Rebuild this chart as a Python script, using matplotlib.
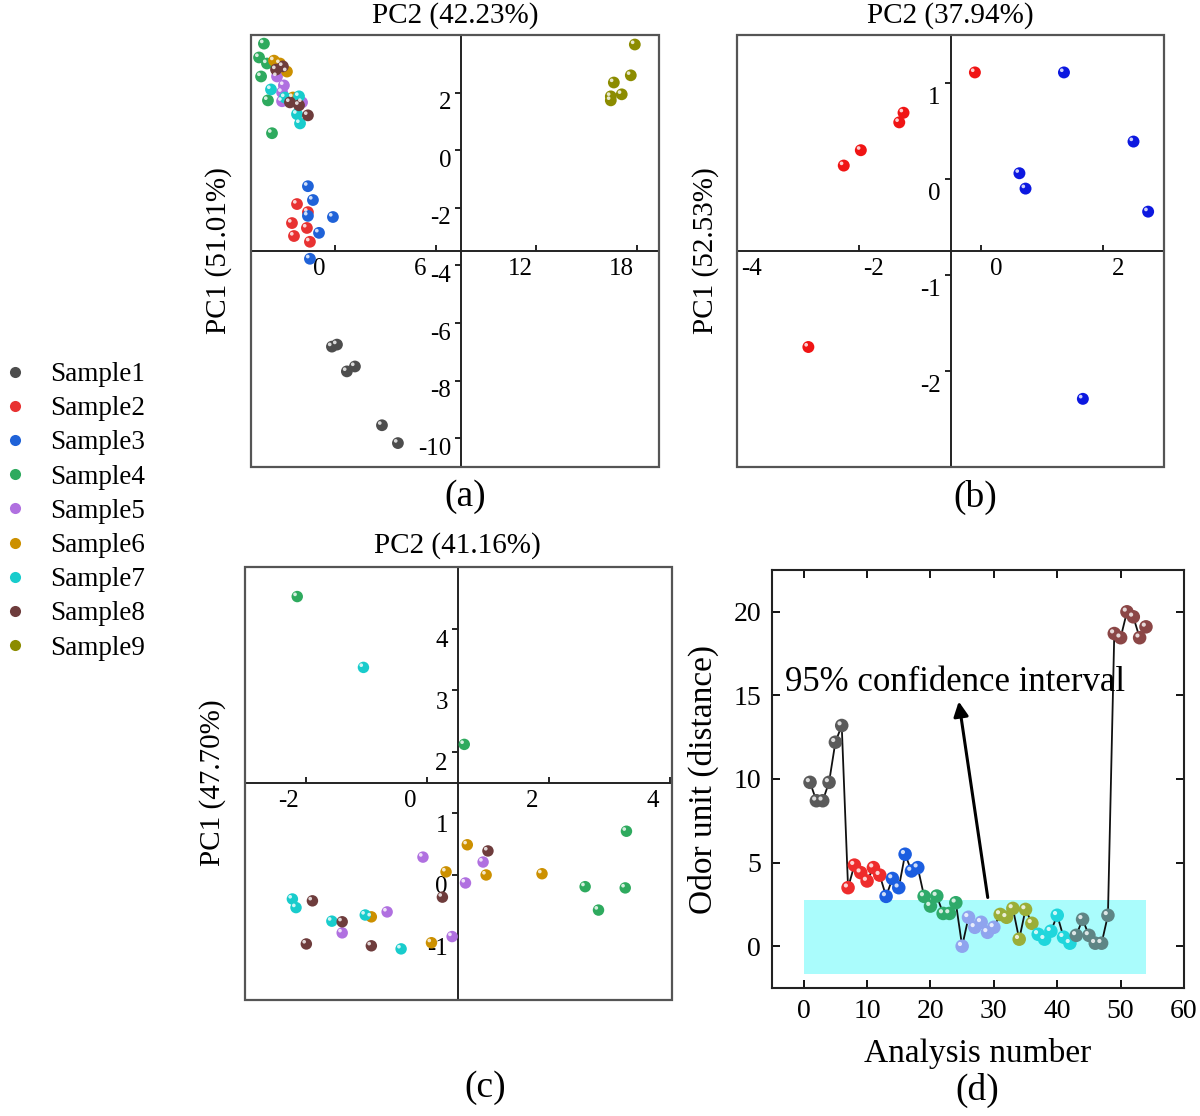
import matplotlib
matplotlib.use("Agg")
import matplotlib.pyplot as plt
from matplotlib.lines import Line2D
from matplotlib.patches import Rectangle
from matplotlib.transforms import ScaledTranslation

plt.rcParams['font.family'] = ['Liberation Serif', 'DejaVu Serif']
plt.rcParams['axes.unicode_minus'] = False

# ---------------- data ----------------
samples = ['Sample1', 'Sample2', 'Sample3', 'Sample4', 'Sample5',
           'Sample6', 'Sample7', 'Sample8', 'Sample9']
colors = ['#4d4d4d', '#e83232', '#1f62d8', '#2eaa5e', '#b070e0',
          '#cc9000', '#18cccc', '#6e3c3c', '#8c8c00']

# panel (a): PC2 (x) / PC1 (y) for all nine samples
a_x = {
    'Sample1': [0.12, -0.18, 1.19, 0.71, 2.80, 3.75],
    'Sample2': [-2.26, -1.61, -2.56, -1.67, -2.44, -1.49],
    'Sample3': [-1.61, -1.31, -1.61, -0.12, -0.95, -1.49],
    'Sample4': [-4.23, -4.52, -4.05, -4.40, -3.99, -3.75],
    'Sample5': [-3.45, -3.04, -3.15, -3.15, -1.96],
    'Sample6': [-3.63, -3.27, -2.86, -2.50],
    'Sample7': [-3.81, -2.98, -2.14, -2.26, -2.08],
    'Sample8': [-3.51, -3.10, -2.68, -2.14, -1.61],
    'Sample9': [17.86, 17.62, 16.61, 17.08, 16.43, 16.43],
}
a_y = {
    'Sample1': [-6.75, -6.82, -7.51, -7.68, -9.55, -10.17],
    'Sample2': [-1.87, -2.15, -2.53, -2.70, -2.98, -3.18],
    'Sample3': [-1.25, -1.73, -2.28, -2.32, -2.87, -3.77],
    'Sample4': [3.70, 3.22, 3.01, 2.56, 1.73, 0.59],
    'Sample5': [2.56, 2.25, 2.01, 1.70, 1.66],
    'Sample6': [3.11, 3.01, 2.73, 1.83],
    'Sample7': [2.11, 1.83, 1.87, 1.25, 0.93],
    'Sample8': [2.80, 2.91, 1.66, 1.56, 1.21],
    'Sample9': [3.67, 2.60, 2.35, 1.94, 1.87, 1.73],
}

# panel (b): two groups
b_red_x = [-0.10, -1.27, -1.34, -1.97, -2.25, -2.83]
b_red_y = [1.11, 0.69, 0.59, 0.30, 0.14, -1.75]
b_blue_x = [1.36, 2.50, 0.63, 0.73, 2.74, 1.67]
b_blue_y = [1.11, 0.39, 0.06, -0.10, -0.34, -2.29]

# panel (c): samples 4-8
c_x = {
    'Sample4': [-2.14, 0.61, 3.28, 2.60, 3.26, 2.82],
    'Sample5': [-0.07, 0.63, 0.92, -1.40, -0.66, 0.41],
    'Sample6': [0.31, 0.66, 0.97, 1.89, -0.92, 0.07],
    'Sample7': [-1.05, -2.22, -2.16, -1.57, -1.02, -0.43],
    'Sample8': [1.00, 0.25, -1.89, -1.40, -1.99, -0.92],
}
c_y = {
    'Sample4': [4.52, 2.12, 0.71, -0.19, -0.21, -0.57],
    'Sample5': [0.29, -0.13, 0.21, -0.94, -0.60, -1.00],
    'Sample6': [0.05, 0.49, 0.00, 0.02, -0.68, -1.10],
    'Sample7': [3.37, -0.39, -0.53, -0.75, -0.65, -1.20],
    'Sample8': [0.39, -0.36, -0.42, -0.76, -1.12, -1.15],
}

# panel (d): odor unit distance per analysis
d_colors = ['#5a5a5a', '#ee2c2c', '#1c5ee0', '#2eaa6a', '#8fa4ee',
            '#9aae38', '#20d6dc', '#5e8585', '#8b4646']
d_values = [
    [9.8, 8.7, 8.7, 9.8, 12.2, 13.2],
    [3.5, 4.85, 4.4, 3.9, 4.7, 4.25],
    [2.98, 4.05, 3.5, 5.5, 4.5, 4.7],
    [2.98, 2.4, 3.0, 1.96, 1.96, 2.6],
    [0.0, 1.73, 1.13, 1.43, 0.83, 1.13],
    [1.9, 1.73, 2.26, 0.42, 2.2, 1.37],
    [0.71, 0.42, 0.9, 1.85, 0.54, 0.18],
    [0.65, 1.61, 0.65, 0.18, 0.18, 1.85],
    [18.7, 18.45, 20.0, 19.7, 18.45, 19.1],
]
ci_low, ci_high = -1.65, 2.75


def px_offset(fig, dx, dy):
    return ScaledTranslation(dx / 100.0, dy / 100.0, fig.dpi_scale_trans)


def ball(ax, x, y, color, s=64, hs=7):
    ax.scatter(x, y, s=s, color=color, edgecolors='none', zorder=4)
    tr = ax.transData + px_offset(ax.figure, -2.2, 2.2)
    ax.scatter(x, y, s=hs, color='white', alpha=0.8, edgecolors='none',
               zorder=5, transform=tr)


def pca_axes(ax, xlim, ylim, xcross, ycross, xticks, yticks, xshift, yshift):
    ax.set_xlim(xlim)
    ax.set_ylim(ylim)
    for side in ['top', 'right']:
        ax.spines[side].set_visible(False)
    ax.spines['left'].set_position(('data', xcross))
    ax.spines['bottom'].set_position(('data', ycross))
    for side in ['left', 'bottom']:
        ax.spines[side].set_linewidth(1.4)
        ax.spines[side].set_color('#222222')
    ax.add_patch(Rectangle((0, 0), 1, 1, transform=ax.transAxes, fill=False,
                           edgecolor='#555555', lw=1.6, zorder=6,
                           clip_on=False))
    ax.set_xticks(xticks)
    ax.set_yticks(yticks)
    ax.tick_params(axis='x', direction='in', length=4, labelsize=18,
                   pad=5, width=1.2)
    ax.tick_params(axis='y', direction='out', length=4, labelsize=18,
                   pad=3, width=1.2)
    fig = ax.figure
    for t in ax.xaxis.get_major_ticks():
        t.label1.set_transform(t.label1.get_transform() +
                               px_offset(fig, xshift, 0))
    for t in ax.yaxis.get_major_ticks():
        t.label1.set_transform(t.label1.get_transform() +
                               px_offset(fig, 0, -yshift))


fig = plt.figure(figsize=(12, 11.16), dpi=100)
W, H = 1200.0, 1116.0


def box(l, t, r, b):
    return [l / W, 1 - b / H, (r - l) / W, (b - t) / H]


# ---------------- (a) ----------------
ax_a = fig.add_axes(box(251, 35, 659, 467))
pca_axes(ax_a, (-5, 19.3), (-11, 4.0), 7.5, -3.5,
         [0, 6, 12, 18], [2, 0, -2, -4, -6, -8, -10], -16, 8)
for name, col in zip(samples, colors):
    ball(ax_a, a_x[name], a_y[name], col, s=72)

# ---------------- (b) ----------------
ax_b = fig.add_axes(box(737, 35, 1164, 467))
pca_axes(ax_b, (-4, 3.0), (-3.0, 1.5), -0.5, -0.75,
         [-4, -2, 0, 2], [1, 0, -1, -2], 15, 12)
ball(ax_b, b_red_x, b_red_y, '#f01414', s=74)
ball(ax_b, b_blue_x, b_blue_y, '#0c18e0', s=74)

# ---------------- (c) ----------------
ax_c = fig.add_axes(box(245, 567, 672, 1000))
pca_axes(ax_c, (-3.0, 4.03), (-2.03, 5.0), 0.5, 1.5,
         [-2, 0, 2, 4], [4, 3, 2, 1, 0, -1], -17, 10)
for name in ['Sample4', 'Sample5', 'Sample6', 'Sample7', 'Sample8']:
    col = colors[samples.index(name)]
    ball(ax_c, c_x[name], c_y[name], col, s=68)

# ---------------- (d) ----------------
ax_d = fig.add_axes(box(772, 570, 1184, 988))
all_vals = [v for grp in d_values for v in grp]
idx = list(range(1, len(all_vals) + 1))
ax_d.add_patch(Rectangle((0, ci_low), 54, ci_high - ci_low,
                         facecolor='#aafcfc', edgecolor='none', zorder=1))
ax_d.plot(idx, all_vals, color='#111111', lw=1.3, zorder=2)
for k, (grp, col) in enumerate(zip(d_values, d_colors)):
    ball(ax_d, idx[k * 6:(k + 1) * 6], grp, col, s=95, hs=9)
ax_d.set_xlim(-5, 60)
ax_d.set_ylim(-2.5, 22.5)
ax_d.set_xticks(range(0, 61, 10))
ax_d.set_yticks(range(0, 21, 5))
ax_d.tick_params(direction='in', length=6, width=1.3, labelsize=20,
                 top=True, right=True, pad=8)
for sp in ax_d.spines.values():
    sp.set_linewidth(1.5)
    sp.set_color('#222222')
ax_d.set_xlabel('Analysis number', fontsize=24, labelpad=10)
ax_d.set_ylabel('Odor unit (distance)', fontsize=24, labelpad=10)
ax_d.annotate('', xy=(24.4, 14.8), xytext=(29.1, ci_high),
              arrowprops=dict(arrowstyle='-|>', color='black', lw=2.2,
                              mutation_scale=22), zorder=7)
ax_d.text(-3.0, 15.8, '95% confidence interval', fontsize=25,
          ha='left', va='center', zorder=8)

# ---------------- labels ----------------
fig.text(455 / W, 1 - 16 / H, 'PC2 (42.23%)', fontsize=21, ha='center',
         va='center')
fig.text(950 / W, 1 - 16 / H, 'PC2 (37.94%)', fontsize=21, ha='center',
         va='center')
fig.text(457 / W, 1 - 546 / H, 'PC2 (41.16%)', fontsize=21, ha='center',
         va='center')
fig.text(219 / W, 1 - 251 / H, 'PC1 (51.01%)', fontsize=21, ha='center',
         va='center', rotation=90)
fig.text(706 / W, 1 - 251 / H, 'PC1 (52.53%)', fontsize=21, ha='center',
         va='center', rotation=90)
fig.text(213 / W, 1 - 783 / H, 'PC1 (47.70%)', fontsize=21, ha='center',
         va='center', rotation=90)
for lab, xp, yp in [('(a)', 465, 497), ('(b)', 975, 497),
                    ('(c)', 485, 1088), ('(d)', 977, 1090)]:
    fig.text(xp / W, 1 - yp / H, lab, fontsize=27, ha='center', va='center')

handles = [Line2D([], [], ls='none', marker='o', markersize=8,
                  markerfacecolor=c, markeredgecolor='none') for c in colors]
fig.legend(handles, samples, loc='upper left',
           bbox_to_anchor=(7 / W, 1 - 362 / H), frameon=False, fontsize=19.5,
           handlelength=0.6, handletextpad=1.0, labelspacing=0.34,
           borderpad=0, borderaxespad=0)

fig.savefig('out.png', dpi=100)
